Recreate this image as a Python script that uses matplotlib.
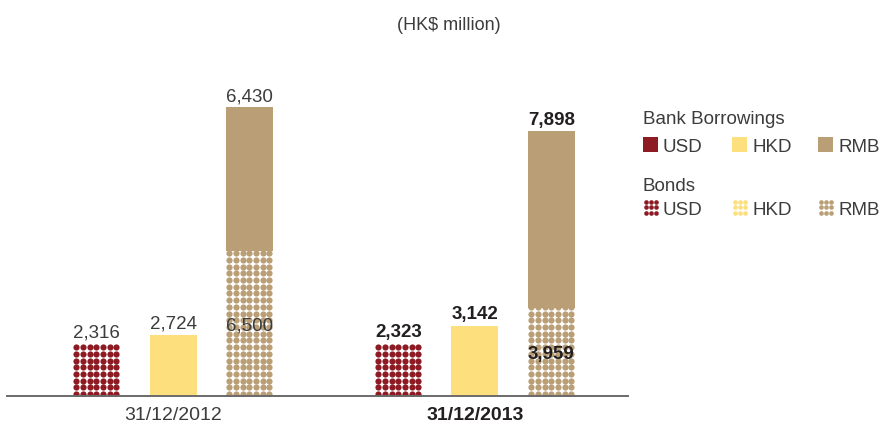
import matplotlib
matplotlib.use("Agg")
import matplotlib.pyplot as plt
from matplotlib.patches import Rectangle
import numpy as np

plt.rcParams["font.family"] = ["Liberation Sans", "DejaVu Sans"]

# Data (HK$ million)
dates = ["31/12/2012", "31/12/2013"]
currencies = ["USD", "HKD", "RMB"]
bonds_2012 = [2316, 0, 6500]
bonds_2013 = [2323, 0, 3959]
bank_2012 = [0, 2724, 6430]
bank_2013 = [0, 3142, 7898]

colors = {"USD": "#8E1B24", "HKD": "#FEDF7E", "RMB": "#B99E76"}
text_grey = "#3C3C3C"
text_dark = "#231F20"

W, H = 884, 426
fig = plt.figure(figsize=(W / 100, H / 100), dpi=100)
ax = fig.add_axes([7 / W, 30 / H, 621 / W, 356 / H])
ax.set_xlim(-0.550, 1.507)
ax.set_ylim(0, 15930)

offset = 0.2533
width = 0.1556
DOT_STEP = 6.7
DOT_SIZE = 20


def dotted(bar, color):
    """Fill a bar with a regular grid of round dots on white."""
    bar.set_facecolor("white")
    bar.set_edgecolor("none")
    bb = bar.get_window_extent()
    xs = np.arange(bb.x0 + 3.2, bb.x1 - 1.5, DOT_STEP)
    ys = np.arange(bb.y0 + 2.0, bb.y1 + DOT_STEP, DOT_STEP)
    gx, gy = np.meshgrid(xs, ys)
    pts = ax.transData.inverted().transform(np.column_stack([gx.ravel(), gy.ravel()]))
    sc = ax.scatter(pts[:, 0], pts[:, 1], s=DOT_SIZE, color=color,
                    linewidths=0, zorder=3)
    sc.set_clip_path(bar)


groups = [(bonds_2012, bank_2012, "normal", text_grey),
          (bonds_2013, bank_2013, "bold", text_dark)]

for gi, (bnd, bank, weight, tcol) in enumerate(groups):
    for ci, cur in enumerate(currencies):
        x = gi + (ci - 1) * offset
        b_val, k_val = bnd[ci], bank[ci]
        col = colors[cur]
        if b_val > 0:
            bar = ax.bar(x, b_val, width, color="white", zorder=2)[0]
            dotted(bar, col)
        if k_val > 0:
            ax.bar(x, k_val, width, bottom=b_val, color=col, linewidth=0, zorder=2)
        # value labels
        if b_val > 0 and k_val > 0:
            ax.annotate(f"{b_val:,}", (x, b_val / 2), xytext=(0, -3),
                        textcoords="offset pixels", ha="center", va="center",
                        fontsize=13.5, color=tcol, fontweight=weight, zorder=5)
            ax.annotate(f"{k_val:,}", (x, b_val + k_val), xytext=(0, 6),
                        textcoords="offset pixels", ha="center", va="baseline",
                        fontsize=13.5, color=tcol, fontweight=weight)
        else:
            v = b_val + k_val
            ax.annotate(f"{v:,}", (x, v), xytext=(0, 7),
                        textcoords="offset pixels", ha="center", va="baseline",
                        fontsize=13.5, color=tcol, fontweight=weight)

for s in ["top", "right", "left"]:
    ax.spines[s].set_visible(False)
ax.spines["bottom"].set_color("#6A6A6A")
ax.spines["bottom"].set_linewidth(1.4)
ax.spines["bottom"].set_zorder(6)
ax.set_yticks([])
ax.set_xticks([0, 1])
ax.set_xticklabels(dates, fontsize=14)
ax.tick_params(axis="x", length=0, pad=8)
lbls = ax.get_xticklabels()
lbls[0].set_color(text_grey)
lbls[1].set_color(text_dark)
lbls[1].set_fontweight("bold")

# Subtitle
fig.text(449 / W, 1 - 26 / H, "(HK$ million)", ha="center", va="center",
         fontsize=13, color=text_grey)

# Legend drawn on a pixel-coordinate overlay
lg = fig.add_axes([0, 0, 1, 1], facecolor="none")
lg.set_xlim(0, W)
lg.set_ylim(H, 0)
lg.axis("off")

lg.text(643, 124, "Bank Borrowings", fontsize=13.5, color=text_grey, va="baseline")
lg.text(643, 191, "Bonds", fontsize=13.5, color=text_grey, va="baseline")
leg_x = [643, 732, 818]
for cur, lx in zip(currencies, leg_x):
    lg.add_patch(Rectangle((lx, 137), 15, 15, facecolor=colors[cur], linewidth=0))
    lg.text(lx + 20, 152, cur, fontsize=13.5, color=text_grey, va="baseline")
    dx, dy = np.meshgrid(lx + 2.5 + np.arange(3) * 5.2, 202 + np.arange(3) * 5.3)
    lg.scatter(dx.ravel(), dy.ravel(), s=11, color=colors[cur], linewidths=0)
    lg.text(lx + 20, 215, cur, fontsize=13.5, color=text_grey, va="baseline")

fig.savefig("out.png", dpi=100)
